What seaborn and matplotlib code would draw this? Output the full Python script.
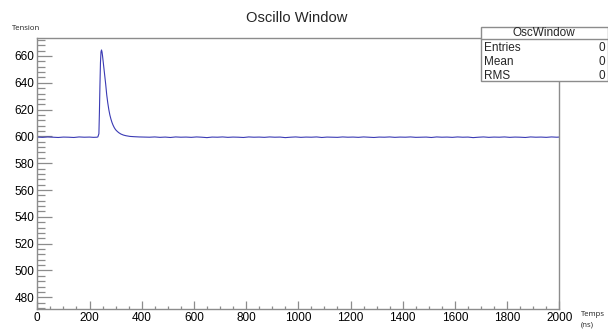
import matplotlib
matplotlib.use("Agg")
import matplotlib.pyplot as plt
from matplotlib import font_manager
from matplotlib.ticker import MultipleLocator
import seaborn as sns
import pandas as pd

# ---- data ----
t_pre = [0, 20, 40, 60, 80, 100, 120, 140, 160, 180, 200, 215, 228, 232]
v_pre = [599.5, 599.3, 599.6, 599.4, 599.2, 599.5, 599.4, 599.2, 599.6, 599.4, 599.5, 599.3, 599.4, 599.6]

t_peak = [236, 238, 240, 242, 244, 246, 248, 250, 254, 258, 262, 266, 270, 274, 278,
          282, 286, 290, 295, 300, 306, 312, 320, 330, 340, 355, 370, 390, 410]
v_peak = [602.0, 618.0, 638.0, 655.0, 663.0, 664.5, 663.0, 660.0, 653.0, 646.0, 639.0,
          631.0, 625.0, 620.0, 616.0, 613.0, 610.5, 608.5, 606.5, 605.0, 603.8, 602.8,
          601.8, 601.0, 600.5, 600.0, 599.8, 599.6, 599.5]

t_post = [430, 450, 470, 490, 510, 530, 550, 570, 590, 610, 630, 650, 670, 690, 710,
          730, 750, 770, 790, 810, 830, 850, 870, 890, 910, 930, 950, 970, 990, 1010,
          1030, 1050, 1070, 1090, 1110, 1130, 1150, 1170, 1190, 1210, 1230, 1250, 1270,
          1290, 1310, 1330, 1350, 1370, 1390, 1410, 1430, 1450, 1470, 1490, 1510, 1530,
          1550, 1570, 1590, 1610, 1630, 1650, 1670, 1690, 1710, 1730, 1750, 1770, 1790,
          1810, 1830, 1850, 1870, 1890, 1910, 1930, 1950, 1970, 1990, 2000]
v_post = [599.4, 599.6, 599.3, 599.5, 599.2, 599.6, 599.4, 599.5, 599.3, 599.6, 599.4,
          599.1, 599.5, 599.4, 599.6, 599.3, 599.5, 599.4, 599.2, 599.6, 599.4, 599.5,
          599.3, 599.6, 599.4, 599.5, 599.1, 599.4, 599.6, 599.3, 599.5, 599.4, 599.6,
          599.2, 599.5, 599.4, 599.3, 599.6, 599.4, 599.5, 599.3, 599.6, 599.4, 599.2,
          599.5, 599.4, 599.6, 599.3, 599.5, 599.4, 599.6, 599.3, 599.4, 599.5, 599.2,
          599.6, 599.4, 599.5, 599.3, 599.6, 599.4, 599.5, 599.1, 599.4, 599.6, 599.3,
          599.5, 599.4, 599.6, 599.3, 599.5, 599.4, 599.2, 599.6, 599.4, 599.5, 599.3,
          599.6, 599.4, 599.5]

stats_labels = ["Entries", "Mean", "RMS"]
stats_values = ["0", "0", "0"]

df = pd.DataFrame({"t": t_pre + t_peak + t_post, "v": v_pre + v_peak + v_post})

sns.set_theme(style="white")
names = {f.name for f in font_manager.fontManager.ttflist}
main_font = "Liberation Sans" if "Liberation Sans" in names else "DejaVu Sans"
small_font = "Open Sans" if "Open Sans" in names else "DejaVu Sans"
plt.rcParams["font.family"] = [main_font, "DejaVu Sans"]
plt.rcParams["font.sans-serif"] = [main_font, "DejaVu Sans"]

fig = plt.figure(figsize=(6.08, 3.32), dpi=100)
ax = fig.add_axes([37.3 / 608, (332 - 309.3) / 332, (559.3 - 37.3) / 608, (309.3 - 38.3) / 332])

sns.lineplot(data=df, x="t", y="v", ax=ax, color="#3a3ab4", linewidth=0.8,
             estimator=None, sort=False)

ax.set_xlim(0, 2000)
ax.set_ylim(471, 673.2)
ax.set_xlabel("")
ax.set_ylabel("")

grey = "#8c8c8c"
for s in ax.spines.values():
    s.set_color(grey)
    s.set_linewidth(1.0)

ax.xaxis.set_major_locator(MultipleLocator(200))
ax.xaxis.set_minor_locator(MultipleLocator(50))
ax.yaxis.set_major_locator(MultipleLocator(20))
ax.yaxis.set_minor_locator(MultipleLocator(4))
ax.tick_params(axis="x", which="major", direction="in", length=7.7 * 0.72, width=0.9,
               color=grey, labelsize=8.5, labelcolor="black", pad=2)
ax.tick_params(axis="x", which="minor", direction="in", length=3.4 * 0.72, width=0.9, color=grey)
ax.tick_params(axis="y", which="major", direction="in", length=15 * 0.72, width=0.9,
               color=grey, labelsize=8.5, labelcolor="black", pad=2)
ax.tick_params(axis="y", which="minor", direction="in", length=7.7 * 0.72, width=0.9, color=grey)
ax.tick_params(bottom=True, left=True, top=False, right=False, which="both")
for lab in ax.get_xticklabels() + ax.get_yticklabels():
    lab.set_fontfamily([main_font, "DejaVu Sans"])

# title and axis labels (ROOT style)
fig.text(297 / 608, 1 - 17.7 / 332, "Oscillo Window", ha="center", va="center", fontsize=10.6,
         family=[main_font, "DejaVu Sans"])
for txt, xx, yy in [("Tension", 12.3, 29), ("Temps", 580.5, 315), ("(ns)", 580.5, 324.5)]:
    fig.text(xx / 608, 1 - yy / 332, txt, ha="left", va="center", fontsize=5.6,
             family=[small_font, "DejaVu Sans"], color="#222222")

# stats box
bx0, bx1, by0, by1, bsep = 480.7, 607.5, 27.3, 81.0, 39.3
box = plt.Rectangle((bx0 / 608, 1 - by1 / 332), (bx1 - bx0) / 608, (by1 - by0) / 332,
                    transform=fig.transFigure, facecolor="white", edgecolor=grey,
                    linewidth=1.0, zorder=5)
fig.patches.append(box)
fig.add_artist(plt.Line2D([bx0 / 608, bx1 / 608], [1 - bsep / 332, 1 - bsep / 332],
                          transform=fig.transFigure, color=grey, linewidth=1.0, zorder=6))
fig.text((bx0 + bx1) / 2 / 608, 1 - 33.3 / 332, "OscWindow", ha="center", va="center",
         fontsize=8.5, zorder=7, family=[main_font, "DejaVu Sans"])
for i, (lab, val) in enumerate(zip(stats_labels, stats_values)):
    yy = 1 - (48.3 + i * 13.9) / 332
    fig.text(484 / 608, yy, lab, ha="left", va="center", fontsize=8.5, zorder=7,
             family=[main_font, "DejaVu Sans"])
    fig.text(605.5 / 608, yy, val, ha="right", va="center", fontsize=8.5, zorder=7,
             family=[main_font, "DejaVu Sans"])

fig.savefig("out.png", dpi=100)
